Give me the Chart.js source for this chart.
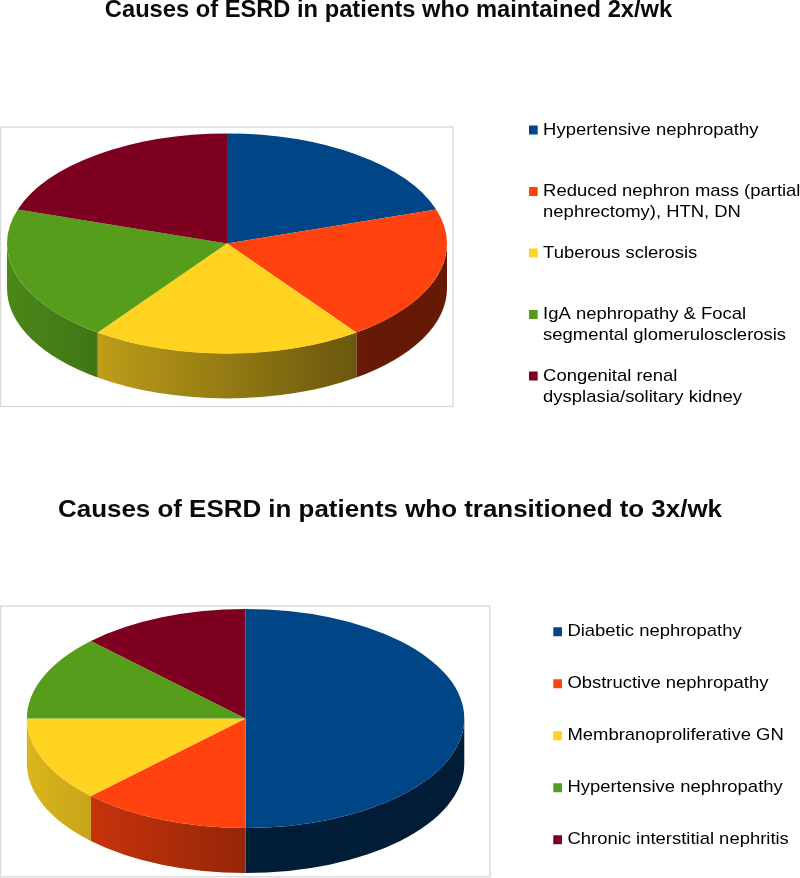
<!DOCTYPE html>
<html>
<head>
<meta charset="utf-8">
<script src="https://cdn.jsdelivr.net/npm/chart.js@4/dist/chart.umd.js"></script>
<style>
html,body{margin:0;padding:0;background:#fff;overflow:hidden}
canvas{position:absolute;left:0}
#c1{top:0}
#c2{top:470px}
</style>
</head>
<body>
<canvas id="c1" width="800" height="470"></canvas>
<canvas id="c2" width="800" height="408"></canvas>
<script>
const titleMaintained = 'Causes of ESRD in patients who maintained 2x/wk';
const categoriesMaintained = [
  ['Hypertensive nephropathy', ''],
  ['Reduced nephron mass (partial', 'nephrectomy), HTN, DN'],
  ['Tuberous sclerosis', ''],
  ['IgA nephropathy & Focal', 'segmental glomerulosclerosis'],
  ['Congenital renal', 'dysplasia/solitary kidney']
];
const valuesMaintained = [20, 20, 20, 20, 20];

const titleTransitioned = 'Causes of ESRD in patients who transitioned to 3x/wk';
const categoriesTransitioned = [
  'Diabetic nephropathy',
  'Obstructive nephropathy',
  'Membranoproliferative GN',
  'Hypertensive nephropathy',
  'Chronic interstitial nephritis'
];
const valuesTransitioned = [50, 12.5, 12.5, 12.5, 12.5];

const sliceColors = ['#004586', '#ff420e', '#ffd320', '#579d1c', '#7e0021'];
const wallShadeCeil = [0.42, 0.9, 0.9, 0.9, 0.9];

function wallColor(hex, t, ceil) {
  const s = Math.max(0.4, Math.min(ceil, 0.58 - 0.28 * t));
  const n = parseInt(hex.slice(1), 16);
  return `rgb(${Math.round((n >> 16) * s)},${Math.round(((n >> 8) & 255) * s)},${Math.round((n & 255) * s)})`;
}

function stretchDraw(box, ctx, originX, sx) {
  const base = box.draw;
  box.draw = function (area) {
    ctx.save();
    ctx.translate(originX, 0);
    ctx.scale(sx, 1);
    ctx.translate(-originX, 0);
    base.call(this, area);
    ctx.restore();
  };
}

const pie3d = {
  id: 'pie3d',
  afterLayout(chart, args, o) {
    const lg = chart.legend, pad = lg.options.labels.padding;
    lg.left = o.legendX - pad;
    lg.right = 1000;
    lg.top = o.legendY - pad;
    lg.bottom = chart.height + 200;
    const tb = chart.titleBlock, lh = tb.options.font.size * tb.options.font.lineHeight;
    tb.left = o.titleX - 390;
    tb.right = o.titleX + 390;
    tb.top = o.titleY - lh / 2;
    tb.bottom = tb.top + lh;
    if (!lg.__stretched) {
      lg.__stretched = true;
      stretchDraw(lg, chart.ctx, o.legendX, o.legendStretch);
      stretchDraw(tb, chart.ctx, o.titleX, o.titleStretch);
    }
  },
  beforeDatasetsDraw(chart, args, o) {
    const ctx = chart.ctx;
    const b = o.box;
    ctx.save();
    ctx.strokeStyle = '#d9d9d9';
    ctx.lineWidth = 1.4;
    ctx.strokeRect(b[0], b[1], b[2] - b[0], b[3] - b[1]);
    ctx.restore();

    const arcs = chart.getDatasetMeta(0).data;
    const colors = chart.data.datasets[0].backgroundColor;
    arcs.forEach((arc, i) => {
      const a0 = Math.max(arc.startAngle, 0), a1 = Math.min(arc.endAngle, Math.PI);
      if (a1 <= a0) return;
      const x0 = o.cx + o.rx * Math.cos(a0), x1 = o.cx + o.rx * Math.cos(a1);
      const g = ctx.createLinearGradient(x1, 0, x0, 0);
      const steps = 8;
      for (let k = 0; k <= steps; k++) {
        const x = x1 + (x0 - x1) * k / steps;
        g.addColorStop(k / steps, wallColor(colors[i], (x - o.cx) / o.rx, wallShadeCeil[i]));
      }
      ctx.save();
      ctx.fillStyle = g;
      ctx.beginPath();
      ctx.ellipse(o.cx, o.cy, o.rx, o.ry, 0, a0, a1, false);
      ctx.ellipse(o.cx, o.cy + o.depth, o.rx, o.ry, 0, a1, a0, true);
      ctx.closePath();
      ctx.fill();
      ctx.restore();
    });

    const first = arcs[0];
    ctx.save();
    ctx.translate(o.cx, o.cy);
    ctx.scale(o.rx / first.outerRadius, o.ry / first.outerRadius);
    ctx.translate(-first.x, -first.y);
  },
  afterDatasetsDraw(chart) {
    chart.ctx.restore();
  }
};

function legendItems(chart) {
  const colors = chart.data.datasets[0].backgroundColor;
  return chart.data.labels.map((text, i) => ({
    text,
    fillStyle: colors[i],
    strokeStyle: colors[i],
    lineWidth: 7,
    hidden: false,
    index: i
  }));
}

function makeChart(id, title, titleSize, labels, values, legendPadding, placement) {
  return new Chart(document.getElementById(id), {
    type: 'pie',
    plugins: [pie3d],
    data: {
      labels,
      datasets: [{ data: values, backgroundColor: sliceColors, borderWidth: 0, clip: false }]
    },
    options: {
      responsive: false,
      animation: false,
      events: [],
      plugins: {
        tooltip: { enabled: false },
        title: {
          display: true,
          text: title,
          color: '#0a0a0a',
          padding: 0,
          font: { family: '"Liberation Sans", Arial, sans-serif', size: titleSize, weight: 'bold', lineHeight: 1.2 }
        },
        legend: {
          display: true,
          position: 'right',
          align: 'start',
          labels: {
            boxWidth: 1,
            boxHeight: 2,
            padding: legendPadding,
            color: '#1f1f1f',
            font: { family: '"Liberation Sans", Arial, sans-serif', size: 17, lineHeight: 21 / 17 },
            generateLabels: legendItems
          }
        },
        pie3d: placement
      }
    }
  });
}

makeChart('c1', titleMaintained, 23.7, categoriesMaintained, valuesMaintained, 19.5, {
  cx: 227, cy: 243.5, rx: 220, ry: 110, depth: 45,
  box: [0.5, 127, 453, 406.5],
  legendX: 532.8, legendY: 121.5, legendStretch: 1.085,
  titleX: 388.5, titleY: 10, titleStretch: 1
});
makeChart('c2', titleTransitioned, 24, categoriesTransitioned, valuesTransitioned, 35, {
  cx: 245.6, cy: 248.5, rx: 218.7, ry: 109.5, depth: 45,
  box: [0.5, 136, 490, 406.8],
  legendX: 557.1, legendY: 153.2, legendStretch: 1.085,
  titleX: 390, titleY: 40, titleStretch: 1.08
});
</script>
</body>
</html>
